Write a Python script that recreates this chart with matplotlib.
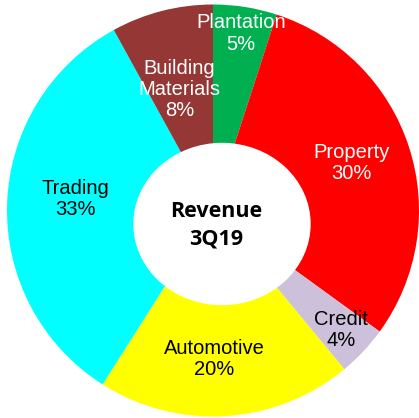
import matplotlib.pyplot as plt
from matplotlib.patches import Ellipse
import numpy as np

# Data
segments = ['Plantation', 'Property', 'Credit', 'Automotive', 'Trading', 'Building\nMaterials']
shares = [5, 30, 4, 20, 33, 8]
colors = ['#00B050', '#FF0000', '#CCC0DA', '#FFFF00', '#00FFFF', '#953735']
text_colors = ['white', 'white', 'black', 'black', 'black', 'white']
center_title = 'Revenue\n3Q19'

# label distance from centre (fraction of radius) and angle nudge (deg)
label_dist = [0.87, 0.71, 0.85, 0.72, 0.67, 0.61]
label_nudge = [0, 1, 0, -3, -3, 1]

fig = plt.figure(figsize=(4.19, 4.18), dpi=100)
ax = fig.add_axes([0, 0, 1, 1])

cx, cy, R = 213, 207.5, 206
wedges, _ = ax.pie(shares, colors=colors, startangle=90, counterclock=False,
                   center=(cx, cy), radius=R, frame=True)
ax.set_xlim(0, 419)
ax.set_ylim(0, 418)
ax.set_aspect('equal')
ax.axis('off')

# donut hole (slightly off-centre like the original)
ax.add_patch(Ellipse((222, 194), 176, 161, color='white', zorder=5))

# labels
for w, name, val, tc, d, nd in zip(wedges, segments, shares, text_colors, label_dist, label_nudge):
    ang = np.deg2rad((w.theta1 + w.theta2) / 2 + nd)
    x = cx + R * d * np.cos(ang)
    y = cy + R * d * np.sin(ang)
    ax.text(x, y, f'{name}\n{val}%', ha='center', va='center', color=tc,
            fontsize=14.5, family='Liberation Sans', linespacing=1.15, zorder=6)

ax.text(216, 193, center_title, ha='center', va='center', fontsize=15.5,
        fontweight='bold', family='Open Sans', linespacing=1.4, zorder=6)

fig.savefig('out.png', dpi=100)
